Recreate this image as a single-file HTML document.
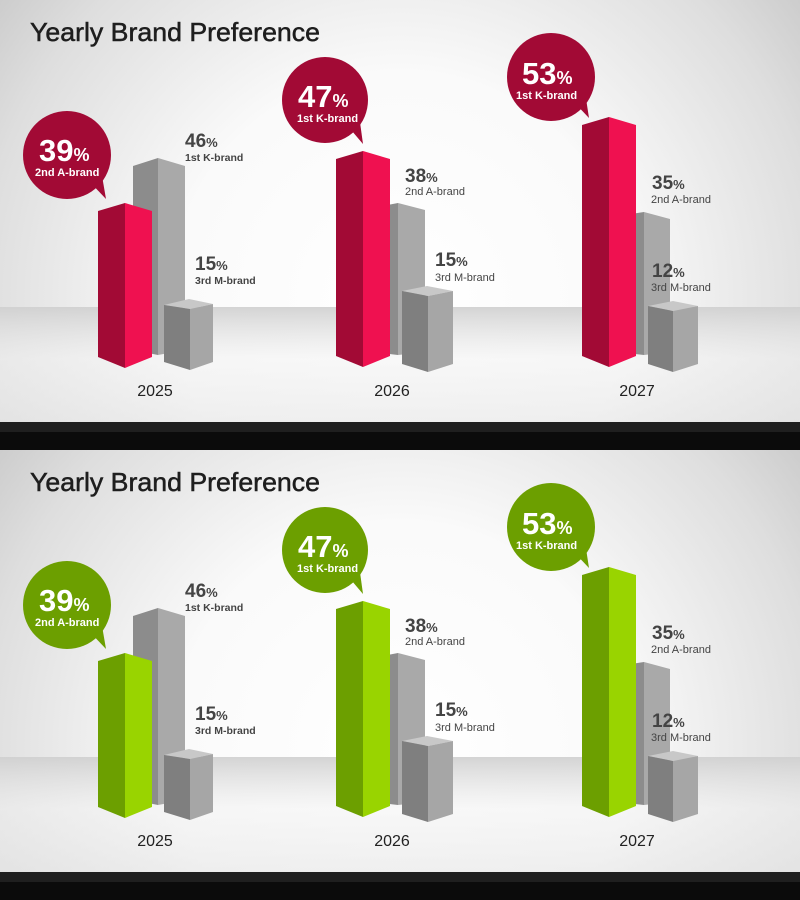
<!DOCTYPE html>
<html><head><meta charset="utf-8"><style>
html,body{margin:0;padding:0;background:#111;}
svg{display:block;font-family:"Liberation Sans",sans-serif;}
</style></head><body>
<svg width="800" height="900" viewBox="0 0 800 900" xmlns="http://www.w3.org/2000/svg">
<defs>
<radialGradient id="bg" cx="400" cy="300" r="540" gradientUnits="userSpaceOnUse">
<stop offset="0" stop-color="#ffffff"/><stop offset="0.42" stop-color="#fafafa"/><stop offset="0.78" stop-color="#dedede"/><stop offset="1" stop-color="#c4c4c4"/>
</radialGradient>
<linearGradient id="floor" x1="0" y1="0" x2="0" y2="1">
<stop offset="0" stop-color="#cfcfcf" stop-opacity="0.9"/><stop offset="0.45" stop-color="#f2f2f2" stop-opacity="0.5"/><stop offset="1" stop-color="#e6e6e6" stop-opacity="0.6"/>
</linearGradient>
</defs>

<!-- ============ PANEL 1 ============ -->
<g>
<rect x="0" y="0" width="800" height="422" fill="url(#bg)"/>
<rect x="0" y="307" width="800" height="115" fill="url(#floor)"/>
<rect x="0" y="422" width="800" height="10" fill="#1f1f1f"/>
<rect x="0" y="432" width="800" height="18" fill="#0b0b0b"/>
<text x="30" y="41" font-size="26" fill="#1e1e1e" stroke="#1e1e1e" stroke-width="0.5" textLength="290" lengthAdjust="spacingAndGlyphs">Yearly Brand Preference</text>

<!-- 2025 -->
<polygon points="133,166 158,158 158,355 133,350" fill="#8c8c8c"/>
<polygon points="158,158 185,166 185,350 158,355" fill="#a9a9a9"/>
<polygon points="98,211 125,203 125,368 98,357" fill="#a20a35"/>
<polygon points="125,203 152,211 152,357 125,368" fill="#ef1150"/>
<polygon points="164,305 189,299 213,304 190,309" fill="#c8c8c8"/>
<polygon points="164,305 190,309 190,370 164,362" fill="#7f7f7f"/>
<polygon points="190,309 213,304 213,362 190,370" fill="#a6a6a6"/>
<circle cx="67" cy="155" r="44" fill="#a20a35"/>
<polygon points="88,180 106,199 101,170" fill="#a20a35"/>
<text x="39" y="161" font-size="31" font-weight="bold" fill="#fff">39<tspan font-size="18">%</tspan></text>
<text x="35" y="176" font-size="11" font-weight="bold" fill="#fff">2nd A-brand</text>
<text x="185" y="147" font-size="19" font-weight="bold" fill="#444">46<tspan font-size="13">%</tspan></text>
<text x="185" y="161" font-size="10.5" font-weight="bold" fill="#444">1st K-brand</text>
<text x="195" y="270" font-size="19" font-weight="bold" fill="#444">15<tspan font-size="13">%</tspan></text>
<text x="195" y="284" font-size="10.5" font-weight="bold" fill="#444">3rd M-brand</text>
<text x="155" y="396" font-size="16" fill="#222" text-anchor="middle">2025</text>

<!-- 2026 -->
<polygon points="372,208 398,203 398,355 372,352" fill="#8c8c8c"/>
<polygon points="398,203 425,210 425,352 398,355" fill="#a9a9a9"/>
<polygon points="336,159 363,151 363,367 336,356" fill="#a20a35"/>
<polygon points="363,151 390,159 390,356 363,367" fill="#ef1150"/>
<polygon points="402,291 427,286 453,291 428,296" fill="#c8c8c8"/>
<polygon points="402,291 428,296 428,372 402,364" fill="#7f7f7f"/>
<polygon points="428,296 453,291 453,364 428,372" fill="#a6a6a6"/>
<circle cx="325" cy="100" r="43" fill="#a20a35"/>
<polygon points="346,124 363,144 359,115" fill="#a20a35"/>
<text x="298" y="107" font-size="31" font-weight="bold" fill="#fff">47<tspan font-size="18">%</tspan></text>
<text x="297" y="122" font-size="11" font-weight="bold" fill="#fff">1st K-brand</text>
<text x="405" y="182" font-size="19" font-weight="bold" fill="#444">38<tspan font-size="13">%</tspan></text>
<text x="405" y="195" font-size="11" fill="#444">2nd A-brand</text>
<text x="435" y="266" font-size="19" font-weight="bold" fill="#444">15<tspan font-size="13">%</tspan></text>
<text x="435" y="281" font-size="11" fill="#444">3rd M-brand</text>
<text x="392" y="396" font-size="16" fill="#222" text-anchor="middle">2026</text>

<!-- 2027 -->
<polygon points="618,216 644,212 644,355 618,352" fill="#8c8c8c"/>
<polygon points="644,212 670,219 670,352 644,355" fill="#a9a9a9"/>
<polygon points="582,125 609,117 609,367 582,356" fill="#a20a35"/>
<polygon points="609,117 636,125 636,356 609,367" fill="#ef1150"/>
<polygon points="648,306 673,301 698,306 673,311" fill="#c8c8c8"/>
<polygon points="648,306 673,311 673,372 648,364" fill="#7f7f7f"/>
<polygon points="673,311 698,306 698,364 673,372" fill="#a6a6a6"/>
<circle cx="551" cy="77" r="44" fill="#a20a35"/>
<polygon points="572,100 589,118 585,92" fill="#a20a35"/>
<text x="522" y="84" font-size="31" font-weight="bold" fill="#fff">53<tspan font-size="18">%</tspan></text>
<text x="516" y="99" font-size="11" font-weight="bold" fill="#fff">1st K-brand</text>
<text x="652" y="189" font-size="19" font-weight="bold" fill="#444">35<tspan font-size="13">%</tspan></text>
<text x="651" y="203" font-size="11" fill="#444">2nd A-brand</text>
<text x="652" y="277" font-size="19" font-weight="bold" fill="#444">12<tspan font-size="13">%</tspan></text>
<text x="651" y="291" font-size="11" fill="#444">3rd M-brand</text>
<text x="637" y="396" font-size="16" fill="#222" text-anchor="middle">2027</text>
</g>

<!-- ============ PANEL 2 ============ -->
<g transform="translate(0,450)">
<rect x="0" y="0" width="800" height="422" fill="url(#bg)"/>
<rect x="0" y="307" width="800" height="115" fill="url(#floor)"/>
<rect x="0" y="422" width="800" height="10" fill="#1f1f1f"/>
<rect x="0" y="432" width="800" height="18" fill="#0b0b0b"/>
<text x="30" y="41" font-size="26" fill="#1e1e1e" stroke="#1e1e1e" stroke-width="0.5" textLength="290" lengthAdjust="spacingAndGlyphs">Yearly Brand Preference</text>

<!-- 2025 -->
<polygon points="133,166 158,158 158,355 133,350" fill="#8c8c8c"/>
<polygon points="158,158 185,166 185,350 158,355" fill="#a9a9a9"/>
<polygon points="98,211 125,203 125,368 98,357" fill="#6c9f00"/>
<polygon points="125,203 152,211 152,357 125,368" fill="#99d400"/>
<polygon points="164,305 189,299 213,304 190,309" fill="#c8c8c8"/>
<polygon points="164,305 190,309 190,370 164,362" fill="#7f7f7f"/>
<polygon points="190,309 213,304 213,362 190,370" fill="#a6a6a6"/>
<circle cx="67" cy="155" r="44" fill="#6c9f00"/>
<polygon points="88,180 106,199 101,170" fill="#6c9f00"/>
<text x="39" y="161" font-size="31" font-weight="bold" fill="#fff">39<tspan font-size="18">%</tspan></text>
<text x="35" y="176" font-size="11" font-weight="bold" fill="#fff">2nd A-brand</text>
<text x="185" y="147" font-size="19" font-weight="bold" fill="#444">46<tspan font-size="13">%</tspan></text>
<text x="185" y="161" font-size="10.5" font-weight="bold" fill="#444">1st K-brand</text>
<text x="195" y="270" font-size="19" font-weight="bold" fill="#444">15<tspan font-size="13">%</tspan></text>
<text x="195" y="284" font-size="10.5" font-weight="bold" fill="#444">3rd M-brand</text>
<text x="155" y="396" font-size="16" fill="#222" text-anchor="middle">2025</text>

<!-- 2026 -->
<polygon points="372,208 398,203 398,355 372,352" fill="#8c8c8c"/>
<polygon points="398,203 425,210 425,352 398,355" fill="#a9a9a9"/>
<polygon points="336,159 363,151 363,367 336,356" fill="#6c9f00"/>
<polygon points="363,151 390,159 390,356 363,367" fill="#99d400"/>
<polygon points="402,291 427,286 453,291 428,296" fill="#c8c8c8"/>
<polygon points="402,291 428,296 428,372 402,364" fill="#7f7f7f"/>
<polygon points="428,296 453,291 453,364 428,372" fill="#a6a6a6"/>
<circle cx="325" cy="100" r="43" fill="#6c9f00"/>
<polygon points="346,124 363,144 359,115" fill="#6c9f00"/>
<text x="298" y="107" font-size="31" font-weight="bold" fill="#fff">47<tspan font-size="18">%</tspan></text>
<text x="297" y="122" font-size="11" font-weight="bold" fill="#fff">1st K-brand</text>
<text x="405" y="182" font-size="19" font-weight="bold" fill="#444">38<tspan font-size="13">%</tspan></text>
<text x="405" y="195" font-size="11" fill="#444">2nd A-brand</text>
<text x="435" y="266" font-size="19" font-weight="bold" fill="#444">15<tspan font-size="13">%</tspan></text>
<text x="435" y="281" font-size="11" fill="#444">3rd M-brand</text>
<text x="392" y="396" font-size="16" fill="#222" text-anchor="middle">2026</text>

<!-- 2027 -->
<polygon points="618,216 644,212 644,355 618,352" fill="#8c8c8c"/>
<polygon points="644,212 670,219 670,352 644,355" fill="#a9a9a9"/>
<polygon points="582,125 609,117 609,367 582,356" fill="#6c9f00"/>
<polygon points="609,117 636,125 636,356 609,367" fill="#99d400"/>
<polygon points="648,306 673,301 698,306 673,311" fill="#c8c8c8"/>
<polygon points="648,306 673,311 673,372 648,364" fill="#7f7f7f"/>
<polygon points="673,311 698,306 698,364 673,372" fill="#a6a6a6"/>
<circle cx="551" cy="77" r="44" fill="#6c9f00"/>
<polygon points="572,100 589,118 585,92" fill="#6c9f00"/>
<text x="522" y="84" font-size="31" font-weight="bold" fill="#fff">53<tspan font-size="18">%</tspan></text>
<text x="516" y="99" font-size="11" font-weight="bold" fill="#fff">1st K-brand</text>
<text x="652" y="189" font-size="19" font-weight="bold" fill="#444">35<tspan font-size="13">%</tspan></text>
<text x="651" y="203" font-size="11" fill="#444">2nd A-brand</text>
<text x="652" y="277" font-size="19" font-weight="bold" fill="#444">12<tspan font-size="13">%</tspan></text>
<text x="651" y="291" font-size="11" fill="#444">3rd M-brand</text>
<text x="637" y="396" font-size="16" fill="#222" text-anchor="middle">2027</text>
</g>
</svg>
</body></html>
